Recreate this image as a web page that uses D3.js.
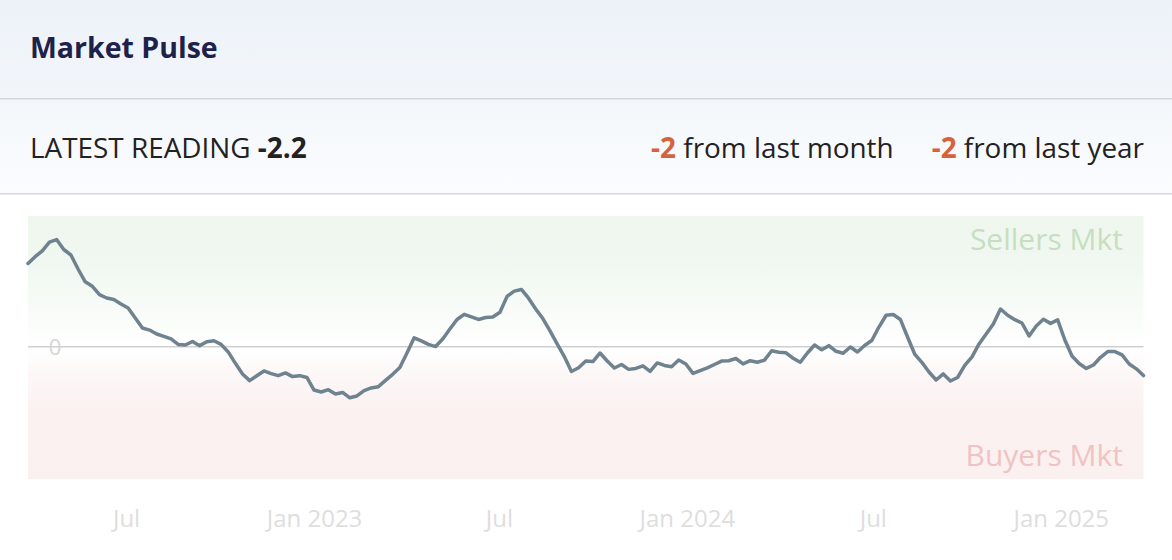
<!DOCTYPE html>
<html>
<head>
<meta charset="utf-8">
<script src="https://cdn.jsdelivr.net/npm/d3@7"></script>
<style>
  html, body { margin: 0; padding: 0; background: #ffffff; }
  svg { display: block; font-family: "Open Sans", "Noto Sans", sans-serif; }
</style>
</head>
<body>
<svg id="chart" width="1172" height="560"></svg>
<script>
const title = "Market Pulse";
const latestLabel = "LATEST READING ";
const latestValue = "-2.2";
const changeMonth = "-2";
const changeYear = "-2";

const dates = [
  "2022-03-27","2022-04-03","2022-04-10","2022-04-17","2022-04-24","2022-05-01","2022-05-08","2022-05-15","2022-05-22","2022-05-29",
  "2022-06-05","2022-06-12","2022-06-19","2022-06-26","2022-07-03","2022-07-10","2022-07-17","2022-07-24","2022-07-31","2022-08-07",
  "2022-08-14","2022-08-21","2022-08-28","2022-09-04","2022-09-11","2022-09-18","2022-09-25","2022-10-02","2022-10-09","2022-10-16",
  "2022-10-23","2022-10-30","2022-11-06","2022-11-13","2022-11-20","2022-11-27","2022-12-04","2022-12-11","2022-12-18","2022-12-25",
  "2023-01-01","2023-01-08","2023-01-15","2023-01-22","2023-01-29","2023-02-05","2023-02-12","2023-02-19","2023-02-26","2023-03-05",
  "2023-03-12","2023-03-19","2023-03-26","2023-04-02","2023-04-09","2023-04-16","2023-04-23","2023-04-30","2023-05-07","2023-05-14",
  "2023-05-21","2023-05-28","2023-06-04","2023-06-11","2023-06-18","2023-06-25","2023-07-02","2023-07-09","2023-07-16","2023-07-23",
  "2023-07-30","2023-08-06","2023-08-13","2023-08-20","2023-08-27","2023-09-03","2023-09-10","2023-09-17","2023-09-24","2023-10-01",
  "2023-10-08","2023-10-15","2023-10-22","2023-10-29","2023-11-05","2023-11-12","2023-11-19","2023-11-26","2023-12-03","2023-12-10",
  "2023-12-17","2023-12-24","2023-12-31","2024-01-07","2024-01-14","2024-01-21","2024-01-28","2024-02-04","2024-02-11","2024-02-18",
  "2024-02-25","2024-03-03","2024-03-10","2024-03-17","2024-03-24","2024-03-31","2024-04-07","2024-04-14","2024-04-21","2024-04-28",
  "2024-05-05","2024-05-12","2024-05-19","2024-05-26","2024-06-02","2024-06-09","2024-06-16","2024-06-23","2024-06-30","2024-07-07",
  "2024-07-14","2024-07-21","2024-07-28","2024-08-04","2024-08-11","2024-08-18","2024-08-25","2024-09-01","2024-09-08","2024-09-15",
  "2024-09-22","2024-09-29","2024-10-06","2024-10-13","2024-10-20","2024-10-27","2024-11-03","2024-11-10","2024-11-17","2024-11-24",
  "2024-12-01","2024-12-08","2024-12-15","2024-12-22","2024-12-29","2025-01-05","2025-01-12","2025-01-19","2025-01-26","2025-02-02",
  "2025-02-09","2025-02-16","2025-02-23","2025-03-02","2025-03-09","2025-03-16","2025-03-23"
];

const values = [
  6.35, 6.87, 7.31, 7.99, 8.18, 7.42, 7.00, 5.93, 4.95, 4.61,
  3.97, 3.72, 3.60, 3.26, 2.95, 2.19, 1.43, 1.27, 0.97, 0.79,
  0.59, 0.17, 0.13, 0.40, 0.08, 0.38, 0.45, 0.18, -0.40, -1.27,
  -2.08, -2.59, -2.22, -1.85, -2.05, -2.21, -2.00, -2.28, -2.21, -2.35,
  -3.31, -3.46, -3.28, -3.61, -3.49, -3.90, -3.76, -3.35, -3.15, -3.05,
  -2.57, -2.11, -1.59, -0.48, 0.68, 0.44, 0.18, 0.01, 0.59, 1.35,
  2.08, 2.47, 2.27, 2.08, 2.23, 2.27, 2.63, 3.84, 4.24, 4.37,
  3.70, 2.88, 2.15, 1.20, 0.21, -0.75, -1.89, -1.61, -1.09, -1.13,
  -0.48, -1.09, -1.63, -1.36, -1.73, -1.66, -1.47, -1.89, -1.24, -1.43,
  -1.53, -1.02, -1.32, -2.04, -1.82, -1.61, -1.36, -1.10, -1.07, -0.90,
  -1.31, -1.07, -1.19, -1.02, -0.31, -0.43, -0.47, -0.88, -1.19, -0.48,
  0.13, -0.24, 0.08, -0.35, -0.50, -0.02, -0.40, 0.09, 0.47, 1.50,
  2.40, 2.46, 2.08, 0.74, -0.56, -1.19, -1.93, -2.54, -2.08, -2.62,
  -2.35, -1.43, -0.79, 0.21, 0.97, 1.73, 2.88, 2.40, 2.06, 1.81,
  0.82, 1.58, 2.09, 1.78, 2.05, 0.51, -0.71, -1.28, -1.66, -1.40,
  -0.81, -0.37, -0.37, -0.62, -1.32, -1.69, -2.20
];

const tickDates = ["2022-07-01","2023-01-01","2023-07-01","2024-01-01","2024-07-01","2025-01-01"];
const tickLabels = ["Jul","Jan 2023","Jul","Jan 2024","Jul","Jan 2025"];
const yDomain = [-10, 10];
const zoneLabels = ["Sellers Mkt", "Buyers Mkt"];

const parse = d3.timeParse("%Y-%m-%d");
const data = dates.map((d, i) => ({ date: parse(d), value: values[i] }));

const svg = d3.select("#chart");
const W = 1172;
const defs = svg.append("defs");

const hg = defs.append("linearGradient").attr("id", "hdr").attr("x1", 0).attr("y1", 0).attr("x2", 0).attr("y2", 1);
hg.append("stop").attr("offset", "0%").attr("stop-color", "#edf2f8");
hg.append("stop").attr("offset", "100%").attr("stop-color", "#f2f6fb");
const rg = defs.append("linearGradient").attr("id", "row").attr("x1", 0).attr("y1", 0).attr("x2", 0).attr("y2", 1);
rg.append("stop").attr("offset", "0%").attr("stop-color", "#f3f7fb");
rg.append("stop").attr("offset", "100%").attr("stop-color", "#fbfcfe");

svg.append("rect").attr("x", 0).attr("y", 0).attr("width", W).attr("height", 98).attr("fill", "url(#hdr)");
svg.append("rect").attr("x", 0).attr("y", 99).attr("width", W).attr("height", 94).attr("fill", "url(#row)");
svg.append("rect").attr("x", 0).attr("y", 98).attr("width", W).attr("height", 1.5).attr("fill", "#d3d6db");
svg.append("rect").attr("x", 0).attr("y", 193).attr("width", W).attr("height", 1.5).attr("fill", "#d3d6db");

svg.append("text").attr("x", 30).attr("y", 58)
  .attr("font-size", 28.5).attr("font-weight", 700).attr("fill", "#1e2149").text(title);

const lt = svg.append("text").attr("x", 30).attr("y", 158).attr("font-size", 27.9).attr("fill", "#222");
lt.append("tspan").text(latestLabel);
lt.append("tspan").attr("font-weight", 700).text(latestValue);

const rt = svg.append("text").attr("x", 1144).attr("y", 158).attr("font-size", 27.9).attr("fill", "#222").attr("text-anchor", "end");
rt.append("tspan").attr("font-weight", 700).attr("fill", "#d6613a").text(changeMonth);
rt.append("tspan").text(" from last month");
rt.append("tspan").attr("dx", 38).attr("font-weight", 700).attr("fill", "#d6613a").text(changeYear);
rt.append("tspan").text(" from last year");

const x = d3.scaleTime().domain([parse(dates[0]), parse(dates[dates.length - 1])]).range([28, 1143.5]);
const y = d3.scaleLinear().domain(yDomain).range([477.7, 215.7]);

const bg = defs.append("linearGradient").attr("id", "band").attr("x1", 0).attr("y1", 0).attr("x2", 0).attr("y2", 1);
bg.append("stop").attr("offset", "0%").attr("stop-color", "#eef6ee");
bg.append("stop").attr("offset", "20%").attr("stop-color", "#f1f8f1");
bg.append("stop").attr("offset", "42%").attr("stop-color", "#fbfdfb");
bg.append("stop").attr("offset", "50%").attr("stop-color", "#ffffff");
bg.append("stop").attr("offset", "62%").attr("stop-color", "#fcf6f6");
bg.append("stop").attr("offset", "75%").attr("stop-color", "#fbf1f1");
bg.append("stop").attr("offset", "100%").attr("stop-color", "#fbf0f0");

svg.append("rect").attr("x", x.range()[0]).attr("y", 216)
  .attr("width", x.range()[1] - x.range()[0]).attr("height", 263).attr("fill", "url(#band)");

svg.append("line").attr("x1", x.range()[0]).attr("x2", x.range()[1])
  .attr("y1", y(0)).attr("y2", y(0)).attr("stroke", "#cfcfcf").attr("stroke-width", 1.5);

svg.append("text").attr("x", 55).attr("y", y(0) + 8).attr("text-anchor", "middle")
  .attr("font-size", 22).attr("fill", "#d6d6d6").text("0");

svg.append("text").attr("x", 1123).attr("y", 250).attr("text-anchor", "end")
  .attr("font-size", 30).attr("fill", "#c6dfc0").text(zoneLabels[0]);
svg.append("text").attr("x", 1123).attr("y", 466).attr("text-anchor", "end")
  .attr("font-size", 30).attr("fill", "#efc3c3").text(zoneLabels[1]);

const line = d3.line().x(d => x(d.date)).y(d => y(d.value));
svg.append("path").datum(data).attr("d", line)
  .attr("fill", "none").attr("stroke", "#6f828f").attr("stroke-width", 3.5)
  .attr("stroke-linejoin", "round").attr("stroke-linecap", "round");

const axis = d3.axisBottom(x)
  .tickValues(tickDates.map(parse))
  .tickFormat((d, i) => tickLabels[i])
  .tickSize(0).tickPadding(0);
const ag = svg.append("g").attr("transform", "translate(0,527)").call(axis);
ag.select(".domain").remove();
ag.selectAll("text").attr("font-size", 24).attr("fill", "#dedede")
  .attr("font-family", "'Open Sans', 'Noto Sans', sans-serif").attr("dy", "0");
</script>
</body>
</html>
